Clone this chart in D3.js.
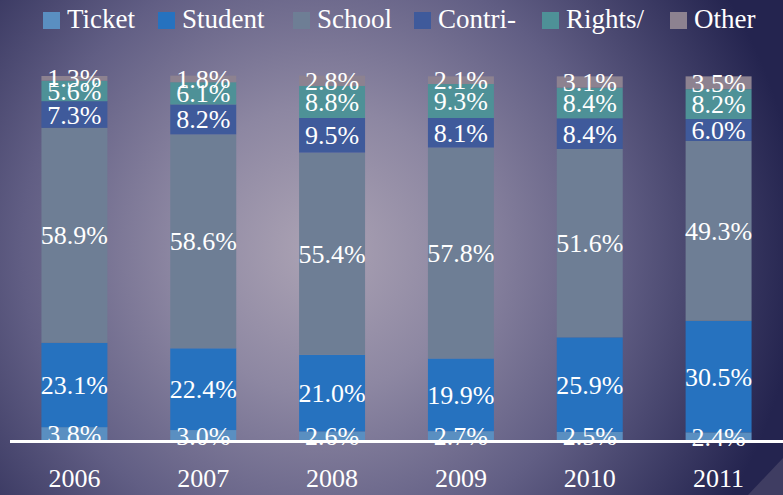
<!DOCTYPE html>
<html>
<head>
<meta charset="utf-8">
<script src="https://cdn.jsdelivr.net/npm/d3@7"></script>
<style>
  html, body { margin: 0; padding: 0; background: #4e4c75; }
  svg { display: block; }
</style>
</head>
<body>
<script>
// data (percent of total per year)
let years = ["2006", "2007", "2008", "2009", "2010", "2011"]
let seriesNames = ["Ticket", "Student", "School", "Contri-", "Rights/", "Other"]
let ticket  = [3.8, 3.0, 2.6, 2.7, 2.5, 2.4]
let student = [23.1, 22.4, 21.0, 19.9, 25.9, 30.5]
let school  = [58.9, 58.6, 55.4, 57.8, 51.6, 49.3]
let contri  = [7.3, 8.2, 9.5, 8.1, 8.4, 6.0]
let rights  = [5.6, 6.1, 8.8, 9.3, 8.4, 8.2]
let other   = [1.3, 1.8, 2.8, 2.1, 3.1, 3.5]
let colors = ["#5a8fc1", "#2672bf", "#6e7e95", "#3f5a9b", "#4e9197", "#8d8290"]

let w = 783
let h = 495
let serif = "'Liberation Serif', 'DejaVu Serif', serif"
// legend layout (x of each swatch)
let legendX = [43, 158, 293, 414, 542, 670]

let seriesValues = [ticket, student, school, contri, rights, other]
let table = years.map((y, i) => {
    let row = {year: y}
    seriesNames.forEach((s, j) => row[s] = seriesValues[j][i])
    return row
})

let svg = d3.select('body').append('svg')
    .attr('width', w)
    .attr('height', h)
    .attr('font-family', serif)

// background
let defs = svg.append('defs')
let grad = defs.append('radialGradient')
    .attr('id', 'bg')
    .attr('gradientUnits', 'userSpaceOnUse')
    .attr('cx', 320).attr('cy', 250).attr('r', 480)
grad.append('stop').attr('offset', 0).attr('stop-color', '#aca3b4')
grad.append('stop').attr('offset', 0.3).attr('stop-color', '#8d87a2')
grad.append('stop').attr('offset', 0.62).attr('stop-color', '#615e84')
grad.append('stop').attr('offset', 1).attr('stop-color', '#24244f')

svg.append('rect').attr('width', w).attr('height', h).attr('fill', 'url(#bg)')
svg.append('polygon')
    .attr('points', '748,495 783,458 783,495')
    .attr('fill', '#3f3d62')

let x = d3.scaleBand()
    .domain(years)
    .range([10, 783])
    .paddingInner(0.488)
    .paddingOuter(0.244)

let y = d3.scaleLinear()
    .domain([0, 100])
    .range([441, 76])

let stacked = d3.stack().keys(seriesNames)(table)

let color = d3.scaleOrdinal().domain(seriesNames).range(colors)

let layers = svg.selectAll('g.layer')
    .data(stacked).enter().append('g')
    .attr('class', 'layer')
    .attr('fill', d => color(d.key))

layers.selectAll('rect')
    .data(d => d).enter().append('rect')
    .attr('x', d => x(d.data.year))
    .attr('y', d => y(d[1]))
    .attr('width', x.bandwidth())
    .attr('height', d => y(d[0]) - y(d[1]))

// value labels
let labels = svg.append('g')
stacked.forEach(layer => {
    labels.selectAll(null)
        .data(layer).enter().append('text')
        .attr('x', d => x(d.data.year) + x.bandwidth() / 2)
        .attr('y', d => y((d[0] + d[1]) / 2) + 9)
        .attr('text-anchor', 'middle')
        .style('font-family', serif)
        .style('font-size', '26px')
        .style('fill', '#fff')
        .text(d => (d[1] - d[0]).toFixed(1) + '%')
})

// baseline
svg.append('line')
    .attr('x1', 10).attr('x2', w)
    .attr('y1', 441.5).attr('y2', 441.5)
    .attr('stroke', '#fff')
    .attr('stroke-width', 3)

// year labels
let xAxis = d3.axisBottom(x).tickSize(0).tickPadding(0)
let ax = svg.append('g').attr('transform', 'translate(0,469)').call(xAxis)
ax.attr('font-family', serif)
ax.select('.domain').remove()
ax.selectAll('text')
    .style('font-family', serif)
    .style('font-size', '26px')
    .style('fill', '#fff')

// legend
let leg = svg.selectAll('g.legend')
    .data(seriesNames).enter().append('g')
    .attr('class', 'legend')
    .attr('transform', (d, i) => `translate(${legendX[i]},0)`)
leg.append('rect')
    .attr('y', 12).attr('width', 17).attr('height', 17)
    .attr('fill', d => color(d))
leg.append('text')
    .attr('x', 24).attr('y', 28)
    .style('font-family', serif)
    .style('font-size', '27px')
    .style('fill', '#fff')
    .text(d => d)
</script>
</body>
</html>
